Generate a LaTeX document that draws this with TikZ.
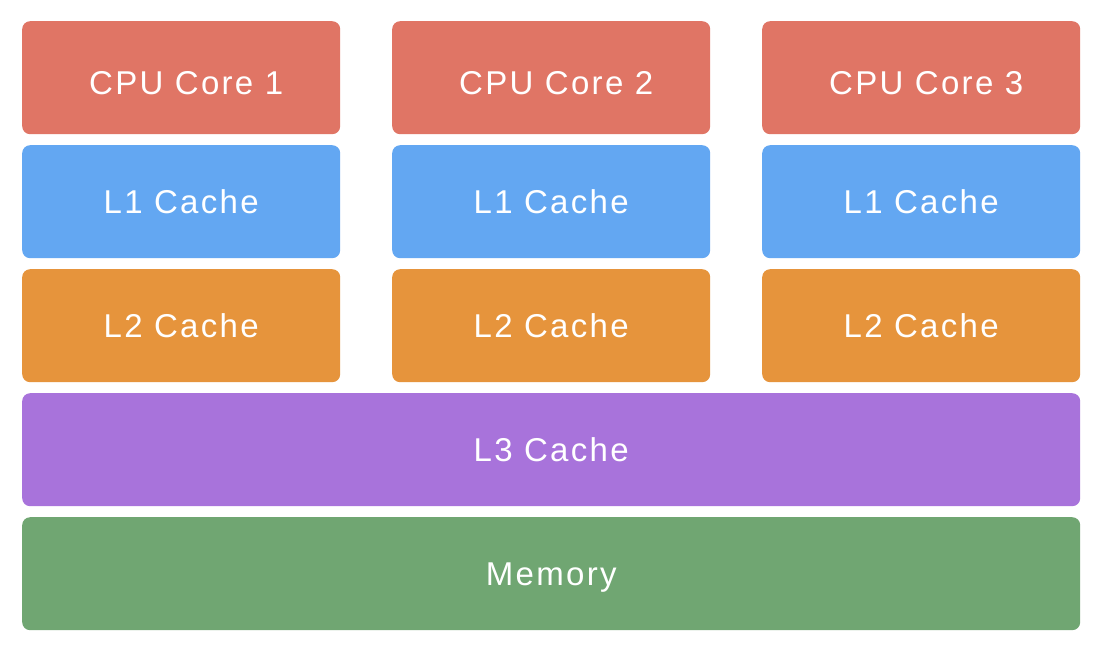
\documentclass[tikz,border=0pt]{standalone}
\usepackage{fontspec}
\setmainfont{Liberation Sans}[LetterSpace=7]
\definecolor{cred}{HTML}{E07565}
\definecolor{cblue}{HTML}{63A7F2}
\definecolor{corange}{HTML}{E6943C}
\definecolor{cpurple}{HTML}{A873DB}
\definecolor{cgreen}{HTML}{70A672}
\begin{document}
\begin{tikzpicture}[x=1pt,y=-1pt,
  blk/.style={rounded corners=8pt, inner sep=0pt, text=white,
    font=\fontsize{33}{33}\selectfont, text height=23pt, text depth=0pt,
    minimum height=113pt, anchor=north west},
  small/.style={blk, minimum width=318pt},
  wide/.style={blk, minimum width=1058pt}]
\useasboundingbox[fill=white] (0,0) rectangle (1093,646);
\foreach \i/\x in {1/22,2/392,3/762}{
  \node[small, fill=cred] (core\i) at (\x,21) {\hspace*{10pt}\raisebox{-5pt}{CPU Core \i}};
  \node[small, fill=cblue] (l1\i) at (\x,145) {L1 Cache};
  \node[small, fill=corange] (l2\i) at (\x,269) {L2 Cache};
}
\node[wide, fill=cpurple] (l3) at (22,393) {L3 Cache};
\node[wide, fill=cgreen] (mem) at (22,517) {Memory};
\end{tikzpicture}
\end{document}
